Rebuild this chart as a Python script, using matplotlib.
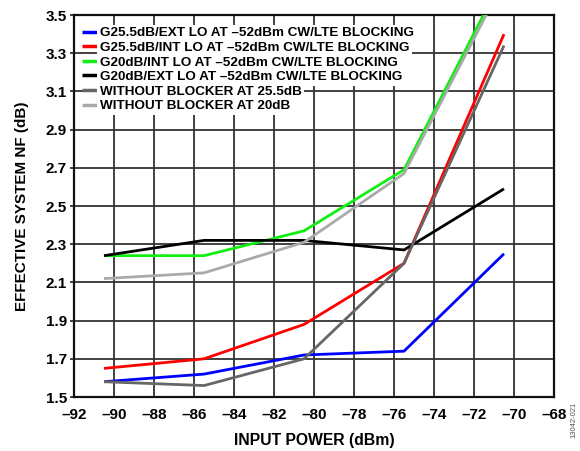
import matplotlib
matplotlib.use('Agg')
import matplotlib.pyplot as plt

plt.rcParams['font.family'] = ['Liberation Sans', 'DejaVu Sans']
plt.rcParams['font.weight'] = 'bold'
plt.rcParams['axes.labelweight'] = 'bold'

# input power points (dBm)
pin = [-90.5, -85.5, -80.5, -75.5, -70.5]

# effective system NF (dB) for each setup
nf_g255_ext = [1.58, 1.62, 1.72, 1.74, 2.25]
nf_g255_int = [1.65, 1.70, 1.88, 2.20, 3.40]
nf_g20_int = [2.24, 2.24, 2.37, 2.69, 3.71]
nf_g20_ext = [2.24, 2.32, 2.32, 2.27, 2.59]
nf_nb_255 = [1.58, 1.56, 1.70, 2.20, 3.34]
nf_nb_20 = [2.12, 2.15, 2.31, 2.67, 3.68]

labels = ['G25.5dB/EXT LO AT \u201352dBm CW/LTE BLOCKING',
          'G25.5dB/INT LO AT \u201352dBm CW/LTE BLOCKING',
          'G20dB/INT LO AT \u201352dBm CW/LTE BLOCKING',
          'G20dB/EXT LO AT \u201352dBm CW/LTE BLOCKING',
          'WITHOUT BLOCKER AT 25.5dB',
          'WITHOUT BLOCKER AT 20dB']
series = [nf_g255_ext, nf_g255_int, nf_g20_int, nf_g20_ext, nf_nb_255, nf_nb_20]
colors = ['#0000ff', '#ff0000', '#11ee11', '#000000', '#666666', '#aaaaaa']

xticks = [-92, -90, -88, -86, -84, -82, -80, -78, -76, -74, -72, -70, -68]
yticks = [1.5, 1.7, 1.9, 2.1, 2.3, 2.5, 2.7, 2.9, 3.1, 3.3, 3.5]

fig = plt.figure(figsize=(5.8, 4.51), dpi=100)
ax = fig.add_axes([0.1276, 0.1197, 0.8276, 0.847])

for ys, lab, c in zip(series, labels, colors):
    ax.plot(pin, ys, color=c, lw=2.0, label=lab, solid_capstyle='butt', zorder=3)

ax.set_xlim(-92, -68)
ax.set_ylim(1.5, 3.5)
ax.set_xticks(xticks)
ax.set_xticklabels([str(v).replace('-', '\u2013') for v in xticks])
ax.set_yticks(yticks)
ax.set_yticklabels(['%.1f' % v for v in yticks])
ax.grid(True, color='#333333', lw=1.3, zorder=1)
ax.tick_params(axis='x', length=0, pad=8, labelsize=11)
ax.tick_params(axis='y', length=3, width=1.3, color='#333333', pad=2, labelsize=11)
for s in ax.spines.values():
    s.set_linewidth(1.6)
    s.set_color('#111111')

ax.set_xlabel('INPUT POWER (dBm)', fontsize=11.3, labelpad=8)
ax.set_ylabel('EFFECTIVE SYSTEM NF (dB)', fontsize=11, labelpad=12)

leg = ax.legend(loc='upper left', bbox_to_anchor=(0.0, 0.99), frameon=False,
                fontsize=9.7, handlelength=1.2, handletextpad=0.1,
                labelspacing=0.16, borderaxespad=0.2)
for t in leg.get_texts():
    t.set_bbox(dict(facecolor='white', edgecolor='none', pad=2.0))
for h in leg.get_lines():
    h.set_linewidth(2.5)
leg.set_zorder(5)

fig.text(0.99, 0.07, '13042-021', rotation=90, fontsize=5.5, color='#555555',
         fontweight='normal', ha='center', va='center')

fig.savefig('out.png', dpi=100)
